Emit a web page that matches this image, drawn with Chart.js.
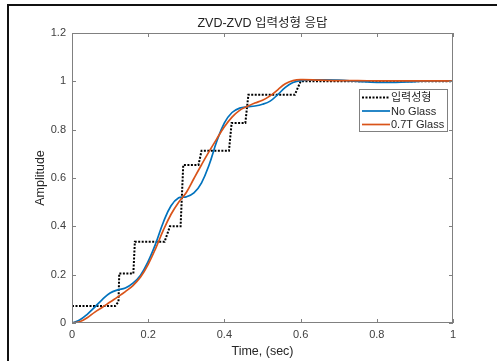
<!DOCTYPE html>
<html>
<head>
<meta charset="utf-8">
<script src="https://cdn.jsdelivr.net/npm/chart.js@4.4.0/dist/chart.umd.min.js"></script>
<style>
  html, body { margin: 0; padding: 0; background: #fff; }
  canvas { display: block; }
</style>
</head>
<body>
<canvas id="stepChart" width="497" height="361"></canvas>
<script>
const chartTitle = "ZVD-ZVD 입력성형 응답";
const seriesNames = ["입력성형", "No Glass", "0.7T Glass"];
const xTicks = [0, 0.2, 0.4, 0.6, 0.8, 1];
const yTicks = [0, 0.2, 0.4, 0.6, 0.8, 1, 1.2];

// shaped command (staircase)
const cmdTime = [0, 0.113, 0.122, 0.124, 0.161, 0.165, 0.243, 0.257, 0.285, 0.292, 0.332, 0.340, 0.412, 0.419, 0.455, 0.463, 0.585, 0.600, 1.0];
const cmdAmp  = [0.07, 0.07, 0.088, 0.205, 0.205, 0.336, 0.336, 0.40, 0.40, 0.654, 0.654, 0.713, 0.713, 0.828, 0.828, 0.945, 0.945, 1.0, 1.0];

// measured responses
const respTime = [0, 0.02, 0.04, 0.06, 0.08, 0.10, 0.12, 0.14, 0.16, 0.18, 0.20, 0.22, 0.24, 0.26, 0.28, 0.30,
                  0.32, 0.34, 0.36, 0.38, 0.40, 0.42, 0.44, 0.46, 0.48, 0.50, 0.52, 0.54, 0.56, 0.58, 0.60,
                  0.65, 0.70, 0.75, 0.80, 0.85, 0.90, 0.95, 1.00];
const noGlass = [0, 0.012, 0.036, 0.066, 0.098, 0.124, 0.137, 0.145, 0.165, 0.198, 0.255, 0.33, 0.418, 0.485, 0.518, 0.522,
                 0.538, 0.58, 0.655, 0.752, 0.828, 0.871, 0.889, 0.895, 0.898, 0.905, 0.918, 0.945, 0.975, 0.995, 1.003,
                 1.006, 1.005, 1.0, 0.996, 0.996, 0.999, 1.002, 1.001];
const glass07 = [0, 0.005, 0.022, 0.045, 0.065, 0.087, 0.108, 0.13, 0.155, 0.19, 0.243, 0.31, 0.385, 0.45, 0.5, 0.54,
                 0.598, 0.655, 0.71, 0.762, 0.812, 0.852, 0.88, 0.896, 0.91, 0.922, 0.94, 0.965, 0.99, 1.003, 1.007,
                 1.005, 1.003, 1.003, 1.002, 1.002, 1.002, 1.002, 1.001];

const BLUE = "#0072BD";
const ORANGE = "#D95319";
const FONT = '"Liberation Sans", Arial, "Noto Sans CJK KR", sans-serif';

const toPoints = (xs, ys) => xs.map((x, i) => ({ x: x, y: ys[i] }));

// axes box with inward ticks, title and legend, drawn over the plot
const matlabAxes = {
    id: "matlabAxes",
    beforeDraw(chart) {
        const ctx = chart.ctx;
        ctx.save();
        ctx.fillStyle = "#fff";
        ctx.fillRect(0, 0, chart.width, chart.height);
        ctx.strokeStyle = "#111";
        ctx.lineWidth = 2;
        ctx.beginPath();
        ctx.moveTo(8, chart.height + 2);
        ctx.lineTo(8, 5);
        ctx.lineTo(chart.width + 2, 5);
        ctx.stroke();
        ctx.restore();
    },
    afterDatasetsDraw(chart) {
        const { ctx, chartArea: a, scales: { x, y } } = chart;
        ctx.save();

        ctx.strokeStyle = "#808080";
        ctx.lineWidth = 1;
        ctx.strokeRect(a.left + 0.5, a.top + 0.5, a.right - a.left - 1, a.bottom - a.top - 1);

        ctx.beginPath();
        xTicks.forEach(v => {
            const px = Math.round(x.getPixelForValue(v)) + 0.5;
            ctx.moveTo(px, a.bottom); ctx.lineTo(px, a.bottom - 4);
            ctx.moveTo(px, a.top); ctx.lineTo(px, a.top + 4);
        });
        yTicks.forEach(v => {
            const py = Math.round(y.getPixelForValue(v)) + 0.5;
            ctx.moveTo(a.left, py); ctx.lineTo(a.left + 4, py);
            ctx.moveTo(a.right, py); ctx.lineTo(a.right - 4, py);
        });
        ctx.stroke();

        // title
        ctx.fillStyle = "#222";
        ctx.font = "12.5px " + FONT;
        ctx.textAlign = "center";
        ctx.textBaseline = "middle";
        ctx.fillText(chartTitle, (a.left + a.right) / 2, 24);

        // legend
        const lw = 88, lh = 42;
        const lx = a.right - 6 - lw, ly = a.top + 56;
        ctx.fillStyle = "#fff";
        ctx.fillRect(lx, ly, lw, lh);
        ctx.strokeStyle = "#808080";
        ctx.strokeRect(lx + 0.5, ly + 0.5, lw, lh);
        ctx.font = "11px " + FONT;
        ctx.textAlign = "left";
        seriesNames.forEach((name, i) => {
            const ds = chart.data.datasets.find(d => d.label === name);
            const ry = ly + 8.5 + i * 13.5;
            ctx.strokeStyle = ds.borderColor;
            ctx.lineWidth = ds.borderWidth;
            ctx.setLineDash(ds.borderDash || []);
            ctx.beginPath();
            ctx.moveTo(lx + 3, ry);
            ctx.lineTo(lx + 31, ry);
            ctx.stroke();
            ctx.setLineDash([]);
            ctx.fillStyle = "#262626";
            ctx.fillText(name, lx + 32, ry + 0.5);
        });
        ctx.restore();
    }
};

new Chart(document.getElementById("stepChart"), {
    type: "line",
    data: {
        datasets: [
            {
                label: seriesNames[0],
                data: toPoints(cmdTime, cmdAmp),
                borderColor: "#000",
                borderWidth: 2,
                borderDash: [2, 1.5],
                pointRadius: 0,
                tension: 0,
                order: 2
            },
            {
                label: seriesNames[1],
                data: toPoints(respTime, noGlass),
                borderColor: BLUE,
                borderWidth: 1.7,
                pointRadius: 0,
                tension: 0.4,
                order: 1
            },
            {
                label: seriesNames[2],
                data: toPoints(respTime, glass07),
                borderColor: ORANGE,
                borderWidth: 1.7,
                pointRadius: 0,
                tension: 0.4,
                order: 0
            }
        ]
    },
    options: {
        responsive: false,
        animation: false,
        devicePixelRatio: 1,
        layout: { padding: { top: 33, right: 44, bottom: 0, left: 0 } },
        plugins: {
            legend: { display: false },
            tooltip: { enabled: false }
        },
        scales: {
            x: {
                type: "linear",
                min: 0,
                max: 1,
                afterFit: s => { s.height = 38; },
                afterBuildTicks: s => { s.ticks = xTicks.map(v => ({ value: v })); },
                grid: { display: false, drawTicks: false },
                border: { display: false },
                ticks: {
                    padding: 5,
                    color: "#404040",
                    font: { family: FONT, size: 11 },
                    maxRotation: 0,
                    callback: v => String(v)
                },
                title: {
                    display: true,
                    text: "Time, (sec)",
                    color: "#262626",
                    font: { family: FONT, size: 12.5 },
                    padding: { top: 0, bottom: 1.5 }
                }
            },
            y: {
                type: "linear",
                min: 0,
                max: 1.2,
                afterFit: s => { s.width = 72; },
                afterBuildTicks: s => { s.ticks = yTicks.map(v => ({ value: v })); },
                grid: { display: false, drawTicks: false },
                border: { display: false },
                ticks: {
                    padding: 6,
                    color: "#404040",
                    font: { family: FONT, size: 11 },
                    callback: v => String(v)
                },
                title: {
                    display: true,
                    text: "Amplitude",
                    color: "#262626",
                    font: { family: FONT, size: 12.5 },
                    padding: { top: 33.5, bottom: 0 }
                }
            }
        }
    },
    plugins: [matlabAxes]
});
</script>
</body>
</html>
